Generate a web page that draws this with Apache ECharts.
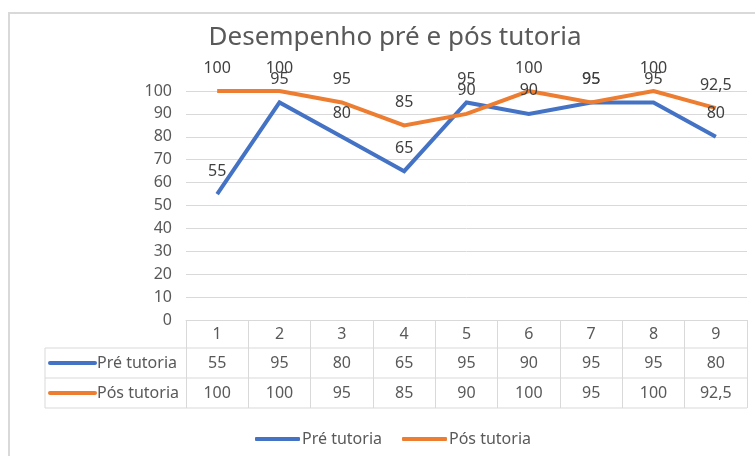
<!DOCTYPE html>
<html>
<head>
<meta charset="utf-8">
<script src="https://cdn.jsdelivr.net/npm/echarts@6/dist/echarts.min.js"></script>
<style>
  html, body { margin: 0; padding: 0; background: #fff; }
  #chart { width: 755px; height: 456px; }
</style>
</head>
<body>
<div id="chart"></div>
<script>
const categories = ["1", "2", "3", "4", "5", "6", "7", "8", "9"];
const preTutoria = [55, 95, 80, 65, 95, 90, 95, 95, 80];
const posTutoria = [100, 100, 95, 85, 90, 100, 95, 100, 92.5];
const seriesNames = ["Pré tutoria", "Pós tutoria"];
const colors = ["#4472C4", "#ED7D31"];

const FONT = '"Noto Sans", "Open Sans", sans-serif';
const TEXT = "#595959";
const LINE = "#d9d9d9";

// decimal comma like the original sheet
const fmt = (v) => String(v).replace(".", ",");

// table layout (rows under the plot)
const tableLeft = 45, plotRight = 747;
const rowLines = [348, 378, 408];

const chart = echarts.init(document.getElementById("chart"));

const tableValues = [preTutoria, posTutoria];
const valueAxes = tableValues.map((vals, k) => ({
  type: "category",
  data: categories,
  position: "bottom",
  offset: 29 + k * 30,
  axisLine: { show: false },
  axisTick: { show: false },
  axisLabel: {
    margin: 6,
    color: TEXT,
    fontSize: 16,
    fontFamily: FONT,
    formatter: (v, i) => fmt(vals[i]),
  },
}));

const graphic = [
  {
    type: "rect",
    shape: { x: 9, y: 13, width: 800, height: 500 },
    style: { fill: "none", stroke: LINE, lineWidth: 2 },
    silent: true,
  },
  ...rowLines.map((y) => ({
    type: "line",
    shape: { x1: tableLeft, y1: y, x2: plotRight, y2: y },
    style: { stroke: LINE, lineWidth: 1 },
  })),
  {
    type: "line",
    shape: { x1: tableLeft, y1: rowLines[0], x2: tableLeft, y2: rowLines[2] },
    style: { stroke: LINE, lineWidth: 1 },
  },
];
seriesNames.forEach((name, k) => {
  const yc = (rowLines[k] + rowLines[k + 1]) / 2;
  graphic.push({
    type: "line",
    shape: { x1: 50, y1: yc, x2: 95, y2: yc },
    style: { stroke: colors[k], lineWidth: 4, lineCap: "round" },
  });
  graphic.push({
    type: "text",
    x: 97,
    y: yc,
    style: {
      text: name,
      fill: TEXT,
      fontSize: 16,
      fontFamily: FONT,
      verticalAlign: "middle",
    },
  });
});

const options = {
  animation: false,
  color: colors,
  title: {
    text: "Desempenho pré e pós tutoria",
    left: 390,
    textAlign: "center",
    top: 20,
    textStyle: { color: TEXT, fontSize: 26, fontWeight: "normal", fontFamily: FONT },
  },
  legend: {
    left: 250,
    top: 426,
    icon: "roundRect",
    itemWidth: 45,
    itemHeight: 4,
    itemGap: 20,
    textStyle: { color: TEXT, fontSize: 16, fontFamily: FONT, padding: [0, 0, 0, -3] },
    data: seriesNames,
  },
  grid: { left: 186, right: 755 - plotRight, top: 91, bottom: 136 },
  xAxis: [
    {
      type: "category",
      data: categories,
      position: "bottom",
      axisLine: { show: true, lineStyle: { color: LINE, width: 1 } },
      axisTick: { show: true, interval: 0, length: 88, lineStyle: { color: LINE } },
      axisLabel: { margin: 6, color: TEXT, fontSize: 16, fontFamily: FONT },
    },
    ...valueAxes,
  ],
  yAxis: {
    type: "value",
    min: 0,
    max: 100,
    interval: 10,
    axisLine: { show: false },
    axisTick: { show: false },
    axisLabel: { margin: 14, color: TEXT, fontSize: 16, fontFamily: FONT },
    splitLine: { lineStyle: { color: LINE, width: 1 } },
  },
  series: [preTutoria, posTutoria].map((vals, k) => ({
    name: seriesNames[k],
    type: "line",
    xAxisIndex: 0,
    data: vals,
    symbol: "circle",
    symbolSize: 0,
    showSymbol: true,
    lineStyle: { width: 4, color: colors[k], join: "miter" },
    label: {
      show: true,
      position: "top",
      distance: 15,
      color: "#404040",
      fontSize: 16,
      fontFamily: FONT,
      formatter: (p) => fmt(p.value),
    },
  })),
  graphic: graphic,
};

chart.setOption(options);
</script>
</body>
</html>
